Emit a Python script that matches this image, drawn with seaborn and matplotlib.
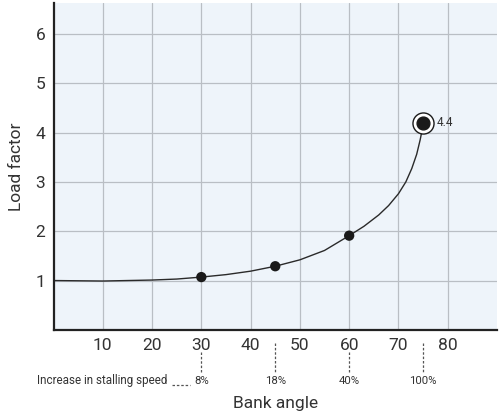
import numpy as np
import pandas as pd
import matplotlib.pyplot as plt
import matplotlib.transforms as mtransforms
import seaborn as sns

# ---- data ----
curve_angle = [0, 10, 20, 25, 30, 35, 40, 45, 50, 55, 60, 63, 66, 68, 70, 71.5, 72.7, 73.7, 74.4, 74.8, 75]
curve_load = [1.0, 0.99, 1.01, 1.03, 1.07, 1.12, 1.19, 1.29, 1.42, 1.61, 1.91, 2.1, 2.33, 2.52, 2.76, 3.0, 3.27, 3.56, 3.85, 4.05, 4.2]

point_angle = [30, 45, 60]
point_load = [1.07, 1.29, 1.91]
peak_angle = 75
peak_load = 4.2
peak_label = "4.4"

stall_angle = [30, 45, 60, 75]
stall_label = ["8%", "18%", "40%", "100%"]

x_ticks = [10, 20, 30, 40, 50, 60, 70, 80]
y_ticks = [1, 2, 3, 4, 5, 6]

curve_df = pd.DataFrame({"angle": curve_angle, "load": curve_load})
pts_df = pd.DataFrame({"angle": point_angle, "load": point_load})

# ---- style ----
sns.set_theme(style="whitegrid")
plt.rcParams["font.family"] = ["Roboto", "DejaVu Sans"]

fig = plt.figure(figsize=(5, 4.17), dpi=100)
ax = fig.add_axes([0.107, 0.209, 0.887, 0.784])
ax.set_facecolor("#eef4fa")
ax.grid(True, color="#b9bec4", linewidth=0.9)
ax.set_axisbelow(True)

sns.lineplot(data=curve_df, x="angle", y="load", ax=ax, color="#2a2a2a", linewidth=1.0)
sns.scatterplot(data=pts_df, x="angle", y="load", ax=ax, color="#1a1a1a", s=55,
                edgecolor="none", zorder=5)

# peak marker: black dot with white ring and thin outer circle
ax.scatter([peak_angle], [peak_load], s=230, facecolor="white", edgecolor="#1a1a1a",
           linewidth=1.0, zorder=6)
ax.scatter([peak_angle], [peak_load], s=85, color="#1a1a1a", zorder=7)
ax.annotate(peak_label, (peak_angle, peak_load), xytext=(10, 0), textcoords="offset points",
            va="center", ha="left", fontsize=8.5, color="#333333")

ax.set_xlim(0, 90)
ax.set_ylim(0, 6.63)
ax.set_xticks(x_ticks)
ax.set_yticks(y_ticks)
ax.tick_params(axis="both", length=0, labelsize=12.5, labelcolor="#333333", pad=6)

for side in ["top", "right"]:
    ax.spines[side].set_visible(False)
for side in ["left", "bottom"]:
    ax.spines[side].set_visible(True)
    ax.spines[side].set_color("#222222")
    ax.spines[side].set_linewidth(1.6)

ax.set_xlabel("Bank angle", fontsize=12.5, color="#333333", labelpad=31)
ax.set_ylabel("Load factor", fontsize=12.5, color="#333333", labelpad=8)

# stalling speed annotations under the axis
trans = mtransforms.blended_transform_factory(ax.transData, ax.transAxes)
for a, lab in zip(stall_angle, stall_label):
    top = -0.04 if a % 10 else -0.068
    ax.plot([a, a], [top, -0.128], transform=trans, color="#555555", linewidth=0.9,
            linestyle=(0, (2, 1.5)), clip_on=False)
    ax.text(a, -0.155, lab, transform=trans, ha="center", va="center", fontsize=8.2,
            color="#333333")

ax.text(23.2, -0.155, "Increase in stalling speed", transform=trans, ha="right",
        va="center", fontsize=8.4, color="#333333")
ax.plot([24.0, 27.7], [-0.168, -0.168], transform=trans, color="#555555", linewidth=0.9,
        linestyle=(0, (2, 1.5)), clip_on=False)

fig.savefig("out.png", dpi=100, facecolor="white")
